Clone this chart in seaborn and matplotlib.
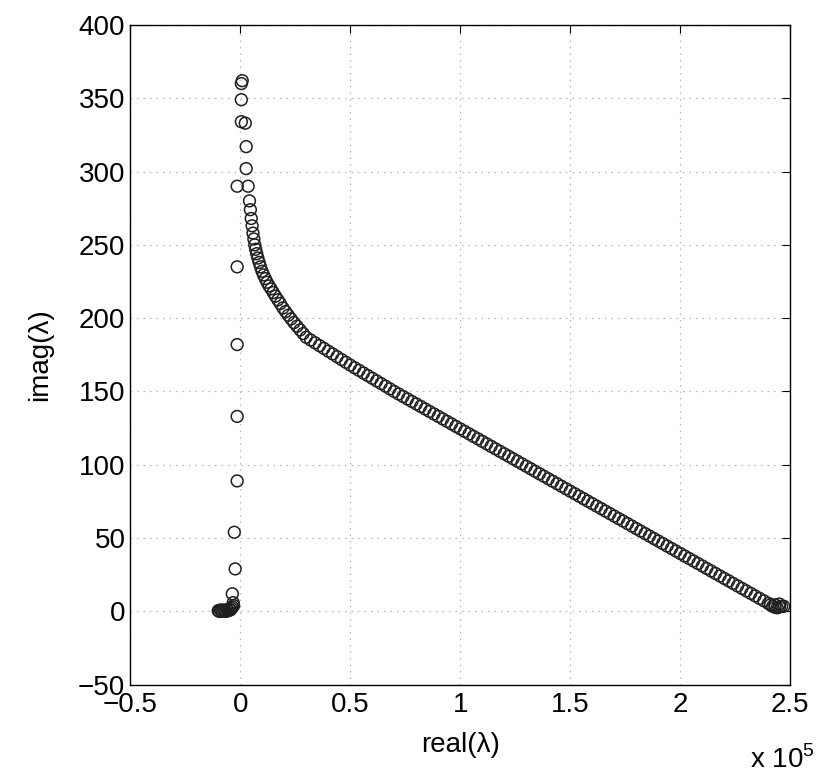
import numpy as np
import pandas as pd
import matplotlib
matplotlib.use("Agg")
import matplotlib.pyplot as plt
import seaborn as sns

# eigenvalues, real part in units of 1e5
# isolated points near the imaginary axis (top of the spectrum)
top_real = [0.005, 0.009, 0.005, 0.005, 0.023, 0.027, 0.027, 0.036]
top_imag = [360, 362, 349, 334, 333, 317, 302, 290]

# left vertical branch
branch_real = [-0.014, -0.014, -0.014, -0.014, -0.014, -0.027, -0.023, -0.036, -0.032]
branch_imag = [290, 235, 182, 133, 89, 54, 29, 12, 6]

# cluster near the origin
origin_real = [-0.100, -0.095, -0.090, -0.085, -0.080, -0.075, -0.070, -0.065,
               -0.060, -0.055, -0.050, -0.045, -0.040, -0.035, -0.030]
origin_imag = [0.5, 0.0, 1.0, 0.5, 0.0, 1.0, 0.5, 0.0,
               1.0, 0.5, 1.5, 1.0, 2.0, 3.0, 4.0]

# bending part of the main curve
bend_real = [0.042, 0.046, 0.050, 0.054, 0.058, 0.062, 0.066, 0.070, 0.075, 0.080,
             0.086, 0.092, 0.099, 0.106, 0.114, 0.122, 0.131, 0.140, 0.150, 0.160,
             0.171, 0.182, 0.194, 0.206, 0.218, 0.231, 0.244, 0.258, 0.272, 0.286]
bend_imag = [280, 274, 268, 263, 258, 254, 250, 247, 244, 241,
             238, 235, 232, 229.5, 227, 224.5, 222, 220, 217.5, 215,
             212.5, 210, 207, 204.5, 202, 199.5, 197, 194.5, 192, 189.5]

# long straight tail of the main curve
tail_real = [0.30, 0.32, 0.34, 0.36, 0.38, 0.40, 0.42, 0.44, 0.46, 0.48,
             0.50, 0.52, 0.54, 0.56, 0.58, 0.60, 0.62, 0.64, 0.66, 0.68,
             0.70, 0.72, 0.74, 0.76, 0.78, 0.80, 0.82, 0.84, 0.86, 0.88,
             0.90, 0.92, 0.94, 0.96, 0.98, 1.00, 1.02, 1.04, 1.06, 1.08,
             1.10, 1.12, 1.14, 1.16, 1.18, 1.20, 1.22, 1.24, 1.26, 1.28,
             1.30, 1.32, 1.34, 1.36, 1.38, 1.40, 1.42, 1.44, 1.46, 1.48,
             1.50, 1.52, 1.54, 1.56, 1.58, 1.60, 1.62, 1.64, 1.66, 1.68,
             1.70, 1.72, 1.74, 1.76, 1.78, 1.80, 1.82, 1.84, 1.86, 1.88,
             1.90, 1.92, 1.94, 1.96, 1.98, 2.00, 2.02, 2.04, 2.06, 2.08,
             2.10, 2.12, 2.14, 2.16, 2.18, 2.20, 2.22, 2.24, 2.26, 2.28,
             2.30, 2.32, 2.34, 2.36, 2.38, 2.40]
tail_imag = [187.0, 185.1, 183.2, 181.3, 179.4, 177.5, 175.6, 173.7, 171.8, 169.9,
             168.0, 166.2, 164.4, 162.6, 160.8, 159.0, 157.2, 155.4, 153.6, 151.8,
             150.0, 148.3, 146.6, 144.9, 143.2, 141.5, 139.8, 138.1, 136.4, 134.7,
             133.0, 131.3, 129.6, 127.9, 126.2, 124.5, 122.8, 121.1, 119.4, 117.7,
             116.0, 114.3, 112.6, 110.9, 109.2, 107.5, 105.8, 104.1, 102.4, 100.7,
             99.0, 97.3, 95.6, 93.9, 92.2, 90.5, 88.8, 87.1, 85.4, 83.7,
             82.0, 80.3, 78.6, 76.9, 75.2, 73.5, 71.8, 70.1, 68.4, 66.7,
             65.0, 63.3, 61.6, 59.9, 58.2, 56.5, 54.8, 53.1, 51.4, 49.7,
             48.0, 46.3, 44.6, 42.9, 41.2, 39.5, 37.8, 36.1, 34.4, 32.7,
             31.0, 29.3, 27.6, 25.9, 24.2, 22.5, 20.8, 19.1, 17.4, 15.7,
             14.0, 12.3, 10.6, 8.9, 7.2, 5.5]

# cluster at the right end
end_real = [2.41, 2.42, 2.43, 2.44, 2.45, 2.46, 2.47, 2.43, 2.45]
end_imag = [4.5, 3.5, 2.8, 2.5, 3.0, 3.5, 3.5, 4.5, 5.0]

x_ticks = [-0.5, 0, 0.5, 1, 1.5, 2, 2.5]
x_tick_labels = ["\u22120.5", "0", "0.5", "1", "1.5", "2", "2.5"]
y_ticks = [-50, 0, 50, 100, 150, 200, 250, 300, 350, 400]
y_tick_labels = ["\u221250", "0", "50", "100", "150", "200", "250", "300", "350", "400"]

df = pd.DataFrame({
    "real": top_real + branch_real + origin_real + bend_real + tail_real + end_real,
    "imag": top_imag + branch_imag + origin_imag + bend_imag + tail_imag + end_imag,
})

sns.set_style("white")
plt.rcParams["font.family"] = ["Liberation Sans", "DejaVu Sans"]
plt.rcParams["mathtext.fontset"] = "custom"
plt.rcParams["mathtext.rm"] = "Liberation Sans"
plt.rcParams["text.color"] = "black"
plt.rcParams["axes.labelcolor"] = "black"

fig = plt.figure(figsize=(8.19, 7.79), dpi=100)
ax = fig.add_axes([0.159, 0.121, 0.806, 0.847])

sns.scatterplot(data=df, x="real", y="imag", ax=ax, marker="o", s=72,
                facecolors="none", edgecolor="#1f1f1f", linewidth=1.1, legend=False)

ax.set_xlim(-0.5, 2.5)
ax.set_ylim(-50, 400)
ax.set_xticks(x_ticks)
ax.set_xticklabels(x_tick_labels)
ax.set_yticks(y_ticks)
ax.set_yticklabels(y_tick_labels)
ax.tick_params(direction="in", length=6, width=0.8, labelsize=20,
               top=True, right=True, colors="black")
ax.tick_params(axis="x", pad=5)
ax.grid(True, color="#b5b5b5", linestyle=(0, (1.2, 4)), linewidth=0.9)
for sp in ax.spines.values():
    sp.set_color("black")
    sp.set_linewidth(1.0)

ax.set_xlabel("real(\u03bb)", fontsize=20, labelpad=10, color="black")
ax.set_ylabel("imag(\u03bb)", fontsize=20, labelpad=18, color="black")
fig.text(0.995, 0.006, r"x 10$^{5}$", ha="right", va="bottom", fontsize=20, color="black")

plt.savefig("out.png", dpi=100)
